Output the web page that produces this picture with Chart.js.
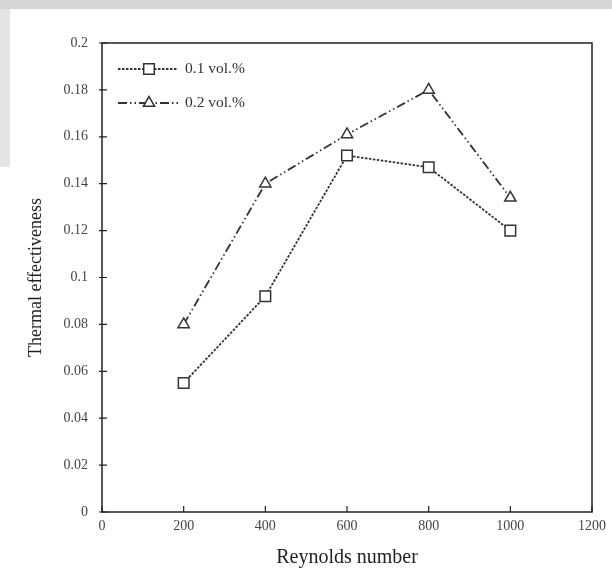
<!DOCTYPE html>
<html>
<head>
<meta charset="utf-8">
<script src="https://cdn.jsdelivr.net/npm/chart.js@4/dist/chart.umd.min.js"></script>
<style>
  body { margin: 0; background: #fff; }
  #wrap { position: relative; width: 612px; height: 576px; }
  .topbar { position: absolute; left: 0; top: 0; width: 612px; height: 9px; background: #d5d5d5; }
  .sidebar { position: absolute; left: 0; top: 9px; width: 10px; height: 158px; background: #e4e4e4; }
  canvas { position: absolute; left: 0; top: 0; }
</style>
</head>
<body>
<div id="wrap">
  <div class="topbar"></div>
  <div class="sidebar"></div>
  <canvas id="chart" width="612" height="576"></canvas>
</div>
<script>
// Chart data
const reynolds = [200, 400, 600, 800, 1000];
const eff01 = [0.055, 0.092, 0.152, 0.147, 0.120];
const eff02 = [0.080, 0.140, 0.161, 0.180, 0.134];
const seriesNames = ['0.1 vol.%', '0.2 vol.%'];
const xTicks = [0, 200, 400, 600, 800, 1000, 1200];
const yTicks = [0, 0.02, 0.04, 0.06, 0.08, 0.1, 0.12, 0.14, 0.16, 0.18, 0.2];
const yTickLabels = ['0', '0.02', '0.04', '0.06', '0.08', '0.1', '0.12', '0.14', '0.16', '0.18', '0.2'];

const serif = "'Liberation Serif', 'DejaVu Serif', serif";

// Frame, inside ticks and legend drawn over the chart area
const framePlugin = {
  id: 'frame',
  afterDraw(chart) {
    const { ctx, chartArea: a, scales } = chart;
    ctx.save();
    ctx.strokeStyle = '#222';
    ctx.lineWidth = 1.5;
    ctx.setLineDash([]);
    ctx.strokeRect(a.left, a.top, a.right - a.left, a.bottom - a.top);

    ctx.lineWidth = 1.2;
    ctx.beginPath();
    scales.x.ticks.forEach(t => {
      const px = scales.x.getPixelForValue(t.value);
      ctx.moveTo(px, a.bottom);
      ctx.lineTo(px, a.bottom - 6);
    });
    scales.y.ticks.forEach(t => {
      const py = scales.y.getPixelForValue(t.value);
      ctx.moveTo(a.left - 3, py);
      ctx.lineTo(a.left + 5, py);
    });
    ctx.stroke();

    // legend
    chart.data.datasets.forEach((ds, i) => {
      const y = a.top + 26 + i * 34;
      ctx.strokeStyle = ds.borderColor;
      ctx.lineWidth = ds.borderWidth;
      ctx.setLineDash(ds.borderDash);
      ctx.beginPath();
      ctx.moveTo(a.left + 16, y);
      ctx.lineTo(a.left + 76, y);
      ctx.stroke();
      ctx.setLineDash([]);
      ctx.fillStyle = '#fff';
      ctx.strokeStyle = ds.pointBorderColor;
      ctx.lineWidth = ds.pointBorderWidth;
      Chart.helpers.drawPoint(ctx, {
        pointStyle: ds.pointStyle,
        radius: ds.pointRadius,
        rotation: 0,
        borderWidth: ds.pointBorderWidth
      }, a.left + 47, y);
      ctx.fillStyle = '#333';
      ctx.font = '15.5px ' + serif;
      ctx.textBaseline = 'middle';
      ctx.textAlign = 'left';
      ctx.fillText(ds.label, a.left + 83, y);
    });
    ctx.restore();
  }
};

const ctx = document.getElementById('chart').getContext('2d');
new Chart(ctx, {
  type: 'line',
  data: {
    datasets: [{
      label: seriesNames[0],
      data: reynolds.map((x, i) => ({ x, y: eff01[i] })),
      borderColor: '#333',
      borderWidth: 1.8,
      borderDash: [2.5, 1.5],
      pointStyle: 'rect',
      pointRadius: 7.5,
      pointBorderColor: '#333',
      pointBackgroundColor: '#fff',
      pointBorderWidth: 1.5,
      tension: 0
    }, {
      label: seriesNames[1],
      data: reynolds.map((x, i) => ({ x, y: eff02[i] })),
      borderColor: '#333',
      borderWidth: 1.8,
      borderDash: [9, 3, 1.5, 3, 1.5, 3],
      pointStyle: 'triangle',
      pointRadius: 6.5,
      pointBorderColor: '#333',
      pointBackgroundColor: '#fff',
      pointBorderWidth: 1.5,
      tension: 0
    }]
  },
  options: {
    responsive: false,
    animation: false,
    layout: { padding: { top: 43, right: 18, left: 0, bottom: 0 } },
    plugins: {
      legend: { display: false },
      tooltip: { enabled: false }
    },
    scales: {
      x: {
        type: 'linear',
        min: 0,
        max: 1200,
        afterBuildTicks: scale => { scale.ticks = xTicks.map(v => ({ value: v })); },
        afterFit: scale => { scale.height = 64; },
        grid: { display: false, drawTicks: false },
        border: { display: false },
        ticks: {
          color: '#444',
          padding: 6,
          font: { family: serif, size: 14 },
          callback: v => String(v)
        },
        title: {
          display: true,
          text: 'Reynolds number',
          color: '#222',
          font: { family: serif, size: 20 },
          padding: { top: 0, bottom: 6 }
        }
      },
      y: {
        type: 'linear',
        min: 0,
        max: 0.2,
        afterBuildTicks: scale => { scale.ticks = yTicks.map(v => ({ value: v })); },
        afterFit: scale => { scale.width = 102; },
        grid: { display: false, drawTicks: false },
        border: { display: false },
        ticks: {
          color: '#444',
          padding: 14,
          font: { family: serif, size: 14 },
          callback: (v, i) => yTickLabels[i]
        },
        title: {
          display: true,
          text: 'Thermal effectiveness',
          color: '#222',
          font: { family: serif, size: 18 },
          padding: { top: 25, bottom: 25 }
        }
      }
    }
  },
  plugins: [framePlugin]
});
</script>
</body>
</html>
